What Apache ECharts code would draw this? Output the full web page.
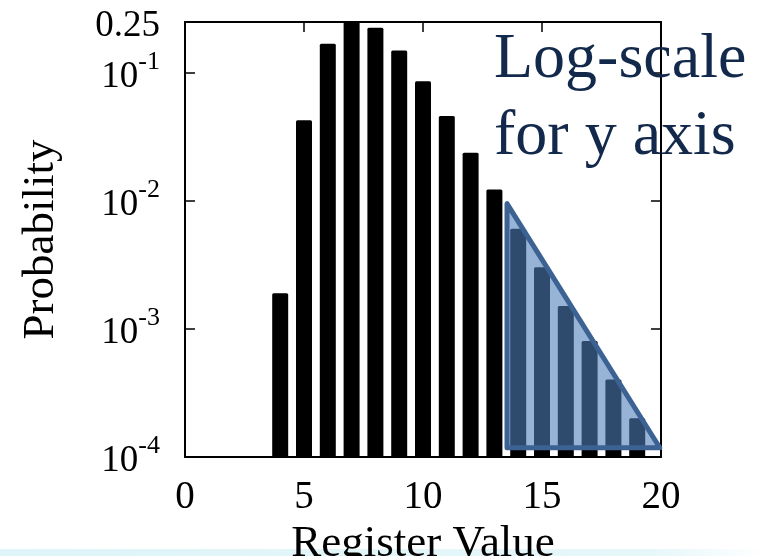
<!DOCTYPE html>
<html><head><meta charset="utf-8">
<script src="https://cdn.jsdelivr.net/npm/echarts@6/dist/echarts.min.js"></script>
<style>html,body{margin:0;padding:0;background:#fff}#c{width:767px;height:556px}</style>
</head><body><div id="c"></div>
<script>
const registerValues = [4,5,6,7,8,9,10,11,12,13,14,15,16,17,18,19];
const probabilities = [0.0019,0.0428,0.169,0.25,0.225,0.150,0.086,0.0462,0.0238,0.0123,0.00607,0.00303,0.00151,0.000805,0.000403,0.000201];
const xTicks = [0,5,10,15,20];
const yTicks = [0.0001,0.001,0.01,0.1,0.25];
const triangleX = [13.53,13.53,19.95];
const triangleY = [0.00953,0.000118,0.000118];
const annotationLines = ['Log-scale','for y axis'];
const Y_MIN = 0.0001, Y_MAX = 0.25;

const serif = 'Liberation Serif';
const chart = echarts.init(document.getElementById('c'), null, {renderer:'canvas'});

function yLabel(v){
  if (Math.abs(v - 0.25) < 1e-9) return '{p|0.25}';
  const n = Math.round(Math.log10(v));
  return '{b|10}{s|' + n + '}';
}
const axisLineStyle = {color:'#000', width:2};
const tickStyle = {color:'#000', width:1.5};

const option = {
  animation:false,
  backgroundColor:'#fff',
  grid:{left:185, right:106, top:22, bottom:99, containLabel:false, outerBoundsMode:'none'},
  xAxis:[{
    type:'value', min:0, max:20, interval:5, position:'bottom',
    axisLine:{show:true, onZero:false, lineStyle:axisLineStyle},
    axisTick:{show:true, inside:true, length:10, lineStyle:tickStyle},
    axisLabel:{show:true, margin:21, fontSize:39, fontFamily:serif, color:'#000', lineHeight:39},
    splitLine:{show:false},
    name:'Register Value', nameLocation:'middle', nameGap:59,
    nameTextStyle:{fontSize:45, fontFamily:serif, color:'#000', lineHeight:45}
  },{
    type:'value', min:0, max:20, interval:5, position:'top',
    axisLine:{show:true, onZero:false, lineStyle:axisLineStyle},
    axisTick:{show:true, inside:true, length:10, lineStyle:tickStyle},
    axisLabel:{show:false}, splitLine:{show:false}
  }],
  yAxis:[{
    type:'log', logBase:10, min:Y_MIN, max:Y_MAX, position:'left',
    axisLine:{show:true, onZero:false, lineStyle:axisLineStyle},
    axisTick:{show:true, inside:true, length:10, lineStyle:tickStyle, customValues:yTicks},
    axisLabel:{show:true, margin:25, customValues:yTicks, formatter:yLabel,
      rich:{
        b:{fontSize:37, fontFamily:serif, color:'#000', lineHeight:48, padding:[8,0,0,0]},
        p:{fontSize:37, fontFamily:serif, color:'#000', lineHeight:48, padding:[8,0,0,0]},
        s:{fontSize:26, fontFamily:serif, color:'#000', lineHeight:40, verticalAlign:'top'}
      }},
    splitLine:{show:false}, minorTick:{show:false},
    name:'Probability', nameLocation:'middle', nameGap:121, nameRotate:90,
    nameTextStyle:{fontSize:45, fontFamily:serif, color:'#000', lineHeight:45}
  },{
    type:'log', logBase:10, min:Y_MIN, max:Y_MAX, position:'right',
    axisLine:{show:true, onZero:false, lineStyle:axisLineStyle},
    axisTick:{show:true, inside:true, length:10, lineStyle:tickStyle, customValues:yTicks},
    axisLabel:{show:false}, splitLine:{show:false}
  }],
  series:[{
    type:'custom', xAxisIndex:0, yAxisIndex:0, z:2,
    data: registerValues.map((x,i)=>[x, probabilities[i]]),
    renderItem:function(params, api){
      const x = api.value(0), v = api.value(1);
      const tl = api.coord([x-0.336, v]);
      const br = api.coord([x+0.336, Y_MIN]);
      return {type:'rect', shape:{x:tl[0], y:tl[1], width:br[0]-tl[0], height:br[1]-tl[1], r:1.5},
        style:{fill:'#000'}};
    }
  },{
    type:'custom', xAxisIndex:0, yAxisIndex:0, z:3, clip:false,
    data:[0],
    renderItem:function(params, api){
      const pts = triangleX.map((x,i)=>api.coord([x, triangleY[i]]));
      return {type:'polygon', shape:{points:pts},
        style:{fill:'rgba(78,125,186,0.59)', stroke:'#3c6293', lineWidth:5, lineJoin:'round'}};
    }
  }],
  graphic:[{
    type:'rect', z:-1, shape:{x:0, y:549, width:767, height:7},
    style:{fill:new echarts.graphic.LinearGradient(0,0,1,0,[{offset:0,color:'#def4f8'},{offset:0.85,color:'#e6f7fa'},{offset:1,color:'#ffffff'}])}
  },{
    type:'text', z:10, x:494, y:22,
    style:{text:annotationLines.join('\n'), font:'64px "Liberation Serif"', fill:'#13294b', lineHeight:77, verticalAlign:'top', align:'left'}
  }]
};
chart.setOption(option);
</script></body></html>
